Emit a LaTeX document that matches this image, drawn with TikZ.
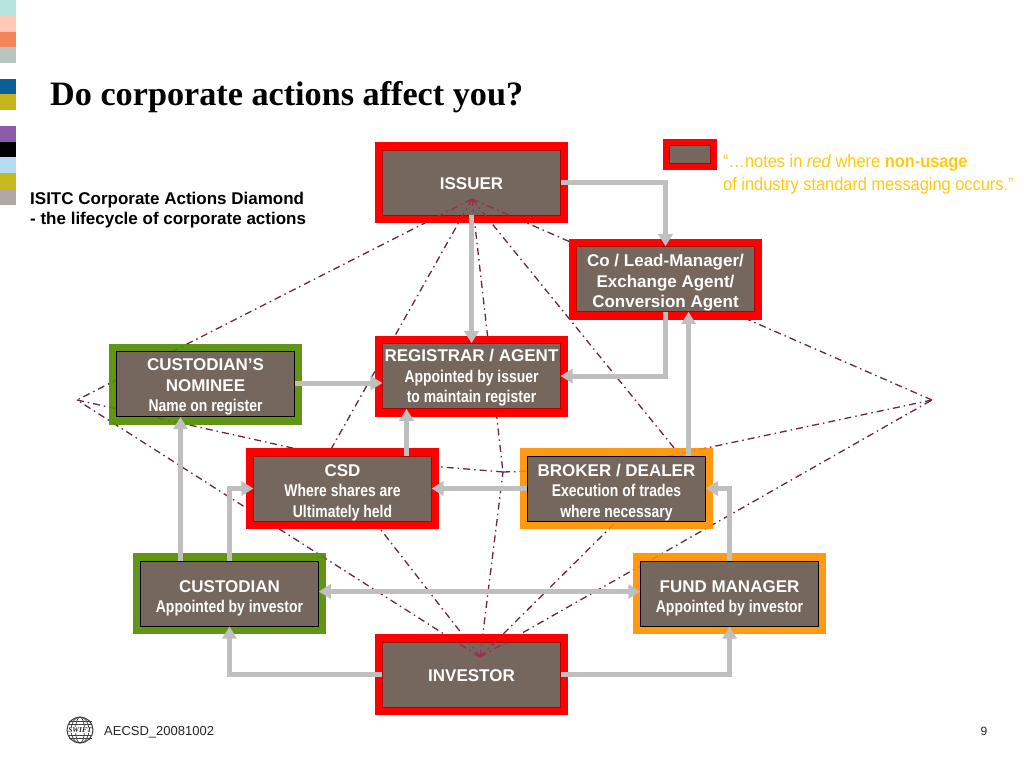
\documentclass[tikz,border=0pt]{standalone}
\usepackage{fontspec}
\usepackage{xcolor}
\usetikzlibrary{arrows.meta,positioning,calc}
\setmainfont{Liberation Sans}
\newfontfamily\titlefont{Liberation Serif}
\newfontfamily\narrowfont[FakeStretch=0.82]{Liberation Sans}
\newfontfamily\notefont[FakeStretch=0.91]{Liberation Sans}
\definecolor{sRed}{HTML}{FF0000}
\definecolor{sGreen}{HTML}{528D00}
\definecolor{sOrange}{HTML}{FF9000}
\definecolor{sTaupe}{HTML}{75675D}
\definecolor{sArrow}{HTML}{BFBFBF}
\definecolor{sSpoke}{HTML}{64284A}
\definecolor{sOverlay}{HTML}{96304F}
\definecolor{sNote}{HTML}{FFC90E}
\newcommand{\subline}[1]{{\narrowfont #1}}
\newcommand{\topgap}[1]{\rule{0pt}{#1}}
\tikzset{
  stagebox/.style={minimum width=177.5pt, minimum height=65pt, inner sep=0pt, fill=sTaupe,
    text=white, align=center, font=\fontsize{17}{20.5}\selectfont\bfseries},
  redbox/.style={stagebox, draw=sRed!70!black, line width=0.6pt,
    preaction={draw=sRed, line width=16pt}},
  greenbox/.style={stagebox, draw=black, line width=1pt,
    preaction={draw=sGreen, draw opacity=0.92, line width=16pt}},
  orangebox/.style={stagebox, draw=black, line width=1pt,
    preaction={draw=sOrange, draw opacity=0.92, line width=16pt}},
  legendbox/.style={stagebox, minimum width=41pt, minimum height=18pt, draw=sRed!70!black, line width=0.6pt,
    preaction={draw=sRed, line width=13pt}},
  flow/.style={draw=sArrow, line width=5pt, -{Triangle[length=12pt,width=14pt]}},
  spoke/.style={draw=sSpoke, line width=1.3pt, dash pattern=on 7pt off 4pt on 1.5pt off 4pt},
  overlay/.style={spoke, draw=sOverlay}
}
\begin{document}
\begin{tikzpicture}[x=1pt, y=-1pt]
  \useasboundingbox (0,0) rectangle (1024,768);
  \foreach \col/\ya/\yb in {B4E4DC/0/16, FFC9B5/16/32, F5845A/32/47, B8C4C0/47/63,
      0B5E96/79/94, C4B41E/94/110, 8E5BAA/126/142, 000000/142/157, B4DCEE/157/173,
      C8B820/173/189, B0A8A4/189/205}{
    \definecolor{stripcol}{HTML}{\col}
    \fill[stripcol] (0,\ya) rectangle (16,\yb);
  }
  \node[anchor=base west, inner sep=0pt, font=\fontsize{34.2}{36}\selectfont\titlefont\bfseries] (title) at (50,105)
    {Do corporate actions affect you?};
  \node[anchor=base west, align=left, inner sep=0pt, font=\fontsize{17}{20}\selectfont\bfseries] (caption) at (30,224)
    {ISITC Corporate Actions Diamond\\- the lifecycle of corporate actions};
  \coordinate (hubT) at (472,199);
  \coordinate (hubB) at (480,657);
  \coordinate (hubL) at (77,400);
  \coordinate (hubR) at (932,400);
  \coordinate (cross) at (503,472);
  \coordinate (stubCsdT) at (308,490);
  \coordinate (stubCsdL) at (342,459);
  \coordinate (stubCsdR) at (430,466);
  \coordinate (stubCsdB) at (360,503);
  \coordinate (stubBrkT) at (692,470);
  \coordinate (stubBrkR) at (650,460);
  \coordinate (stubBrkL) at (535,471);
  \coordinate (stubBrkB) at (625,513);
  \foreach \from/\to in {hubT/hubL, hubT/hubR, hubT/stubCsdT, hubT/stubBrkT, hubT/cross,
      hubB/hubL, hubB/hubR, hubB/stubCsdB, hubB/stubBrkB, hubB/cross,
      hubL/stubCsdL, hubR/stubBrkR, cross/stubCsdR, cross/stubBrkL}
    \draw[spoke] (\from) -- (\to);
  \node[redbox] (issuer) at (471.5,182.5) {\topgap{14pt}ISSUER};
  \node[redbox] (colead) at (665.5,279) {\topgap{20.3pt}Co / Lead-Manager/\\Exchange Agent/\\Conversion Agent};
  \node[redbox] (registrar) at (471.5,376) {\topgap{16.3pt}REGISTRAR / AGENT\\\subline{Appointed by issuer}\\\subline{to maintain register}};
  \node[greenbox] (nominee) at (205.5,384) {\topgap{18.3pt}CUSTODIAN’S\\NOMINEE\\\subline{Name on register}};
  \node[redbox] (csd) at (342.5,488.5) {\topgap{20.3pt}CSD\\\subline{Where shares are}\\\subline{Ultimately held}};
  \node[orangebox] (broker) at (616.5,488.5) {\topgap{20.3pt}BROKER / DEALER\\\subline{Execution of trades}\\\subline{where necessary}};
  \node[greenbox] (custodian) at (229.5,593.5) {\topgap{21.5pt}CUSTODIAN\\\subline{Appointed by investor}};
  \node[orangebox] (fund) at (729.5,593.5) {\topgap{21.5pt}FUND MANAGER\\\subline{Appointed by investor}};
  \node[redbox] (investor) at (471.5,674.5) {\topgap{14pt}INVESTOR};
  \begin{scope}
    \clip (issuer.south west) rectangle (issuer.north east);
    \foreach \to in {hubL, hubR, stubCsdT, stubBrkT, cross}
      \draw[overlay] (hubT) -- (\to);
  \end{scope}
  \begin{scope}
    \clip (investor.south west) rectangle (investor.north east);
    \foreach \to in {hubL, hubR, stubCsdB, stubBrkB, cross}
      \draw[overlay] (hubB) -- (\to);
  \end{scope}
  \draw[flow] (issuer.east) -| (colead.north);
  \draw[flow] (issuer.south) -- (registrar.north);
  \draw[flow] (colead.south) |- (registrar.east);
  \draw[flow] ([yshift=1pt]nominee.east) -- ([yshift=1pt]nominee.east -| registrar.west);
  \draw[flow] ([xshift=64pt]csd.north) -- ([xshift=64pt]csd.north |- registrar.south);
  \draw[flow] (broker.west) -- (csd.east);
  \draw[flow] ([xshift=72pt]broker.north) -- ([xshift=72pt]broker.north |- colead.south);
  \draw[flow] (fund.north) |- (broker.east);
  \draw[flow] (custodian.north) |- (csd.west);
  \draw[flow] ([xshift=-49pt]custodian.north) -- ([xshift=-49pt]custodian.north |- nominee.south);
  \draw[flow, {Triangle[length=12pt,width=14pt]}-{Triangle[length=12pt,width=14pt]}] ([yshift=2pt]custodian.east) -- ([yshift=2pt]fund.west);
  \draw[flow] (investor.west) -| (custodian.south);
  \draw[flow] (investor.east) -| (fund.south);
  \node[legendbox] (legend) at (689.5,154) {};
  \node[anchor=base west, align=left, inner sep=0pt, text=sNote, font=\fontsize{18}{23}\selectfont\notefont] (note) at (723,190)
    {“…notes in \textit{red} where \textbf{non-usage}\\of industry standard messaging occurs.”};
  \node[circle, draw=black!75, line width=1pt, minimum size=26pt, inner sep=0pt] (globe) at (80,730) {};
  \foreach \rx in {4.5,9}
    \draw[black!75, line width=0.7pt] (globe.center) ellipse [x radius=\rx pt, y radius=13pt];
  \foreach \dy in {-8.5,-5.5,5.5,8.5}
    \draw[black!75, line width=0.7pt] ([yshift=\dy pt, xshift=2pt]globe.west) -- ([yshift=\dy pt, xshift=-2pt]globe.east);
  \node[fill=white, inner sep=0.3pt, font=\fontsize{7.5}{7.5}\selectfont\titlefont\bfseries\itshape, text=black!85] (swift) at (globe.center) {SWIFT};
  \node[anchor=base west, inner sep=0pt, font=\fontsize{13}{14}\selectfont, text=black!85] (code) at (104,735) {AECSD\_20081002};
  \node[anchor=base, inner sep=0pt, font=\fontsize{12}{14}\selectfont, text=black!85] (page) at (984,735) {9};
\end{tikzpicture}
\end{document}
